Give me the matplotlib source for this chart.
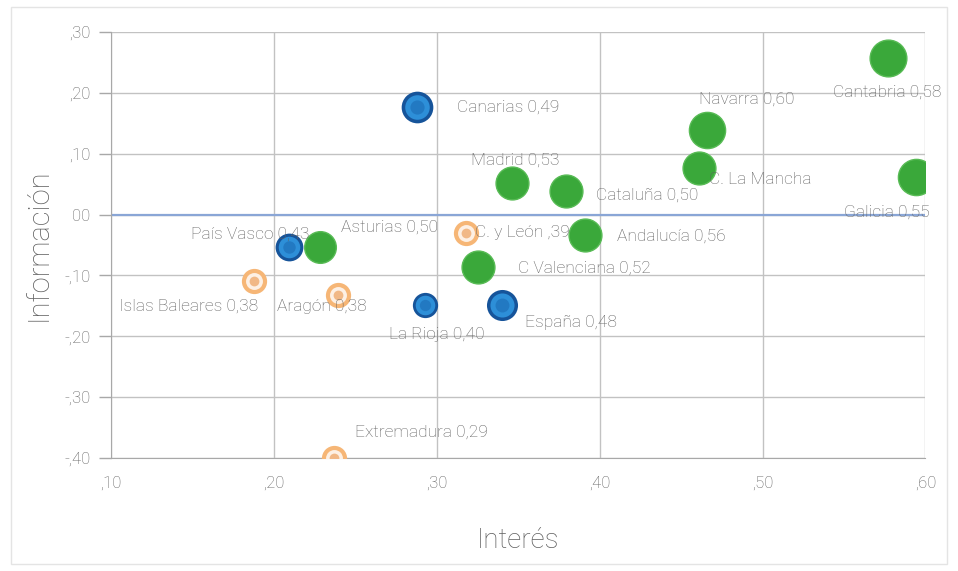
import matplotlib
matplotlib.use("Agg")
import matplotlib.pyplot as plt
from matplotlib.patches import Rectangle

# datos
regiones = ["Cantabria 0,58", "Galicia 0,55", "Navarra 0,60", "C. La Mancha",
            "Madrid 0,53", "Cataluña 0,50", "Andalucía 0,56",
            "C Valenciana 0,52", "Asturias 0,50", "Canarias 0,49",
            "País Vasco 0,43", "La Rioja 0,40", "España 0,48",
            "C. y León ,39", "Islas Baleares 0,38", "Aragón 0,38",
            "Extremadura 0,29"]
interes = [0.577, 0.594, 0.466, 0.461, 0.346, 0.379, 0.391, 0.325, 0.228,
           0.288, 0.209, 0.293, 0.340, 0.318, 0.188, 0.239, 0.237]
informacion = [0.257, 0.061, 0.139, 0.077, 0.052, 0.038, -0.033, -0.087,
               -0.054, 0.177, -0.054, -0.149, -0.149, -0.031, -0.110,
               -0.133, -0.400]
grupo = ["verde", "verde", "verde", "verde", "verde", "verde", "verde",
         "verde", "verde", "azul", "azul", "azul", "azul", "naranja",
         "naranja", "naranja", "naranja"]
tamano = [700, 680, 680, 560, 560, 560, 560, 560, 520, 520, 400, 330, 500,
          330, 330, 330, 330]

xticks = [0.10, 0.20, 0.30, 0.40, 0.50, 0.60]
xtick_labels = [",10", ",20", ",30", ",40", ",50", ",60"]
yticks = [-0.40, -0.30, -0.20, -0.10, 0.00, 0.10, 0.20, 0.30]
ytick_labels = ["-,40", "-,30", "-,20", "-,10", "00", ",10", ",20", ",30"]

# desplazamiento de cada etiqueta (pixeles)
offsets = [(-55, -34), (-72, -35), (-8, 31), (10, -12), (-41, 23), (30, -4),
           (32, -2), (40, -1), (21, 20), (40, 0), (-98, 13), (-36, -29),
           (23, -17), (9, 1), (-135, -25), (-61, -11), (21, 26)]

plt.rcParams['font.family'] = ['Roboto', 'DejaVu Sans']
gris = "#5f5f5f"

fig = plt.figure(figsize=(9.58, 5.71), dpi=100)
fig.patches.append(Rectangle((0.011, 0.012), 0.978, 0.975,
                             transform=fig.transFigure, fill=False,
                             edgecolor="#e4e4e4", lw=1))
ax = fig.add_axes([0.116, 0.198, 0.850, 0.746])
ax.set_xlim(0.10, 0.60)
ax.set_ylim(-0.40, 0.30)

ax.grid(True, color="#c2c2c2", lw=1)
ax.set_axisbelow(True)
ax.axhline(0, color="#8aa6d6", lw=1.6, zorder=1)
for s in ["top", "right"]:
    ax.spines[s].set_visible(False)
for s in ["left", "bottom"]:
    ax.spines[s].set_color("#a8a8a8")

ax.set_xticks(xticks)
ax.set_xticklabels(xtick_labels)
ax.set_yticks(yticks)
ax.set_yticklabels(ytick_labels)
ax.tick_params(axis="x", length=0, pad=13, labelsize=12, labelcolor=gris)
ax.tick_params(axis="y", length=9, width=1, color="#a8a8a8", pad=6,
               labelsize=12, labelcolor=gris)
for lab in ax.get_xticklabels() + ax.get_yticklabels():
    lab.set_fontweight("light")

for x, y, g, s in zip(interes, informacion, grupo, tamano):
    if g == "verde":
        ax.scatter(x, y, s=s, color="#3aa83a", edgecolors="#58bb55",
                   linewidths=1, zorder=3)
    elif g == "azul":
        ax.scatter(x, y, s=s, color="#16549a", linewidths=0, zorder=3)
        ax.scatter(x, y, s=s * 0.6, color="#2d8fd8", linewidths=0, zorder=4)
        ax.scatter(x, y, s=s * 0.2, color="#2279c2", linewidths=0, zorder=5)
    else:
        ax.scatter(x, y, s=s, color="#f6b676", linewidths=0, zorder=3)
        ax.scatter(x, y, s=s * 0.45, color="#fdf0e4", linewidths=0, zorder=4)
        ax.scatter(x, y, s=s * 0.15, color="#f1b886", linewidths=0, zorder=5)

for nombre, x, y, (dx, dy) in zip(regiones, interes, informacion, offsets):
    ax.annotate(nombre, (x, y), xytext=(dx, dy), textcoords="offset pixels",
                ha="left", va="center", fontsize=12.5, color=gris,
                fontweight="light", zorder=6, annotation_clip=False)

ax.set_xlabel("Interés", fontsize=20, color=gris, fontweight="light",
              labelpad=26)
ax.set_ylabel("Información", fontsize=21, color=gris, fontweight="light",
              labelpad=8)

fig.savefig("out.png", dpi=100)
